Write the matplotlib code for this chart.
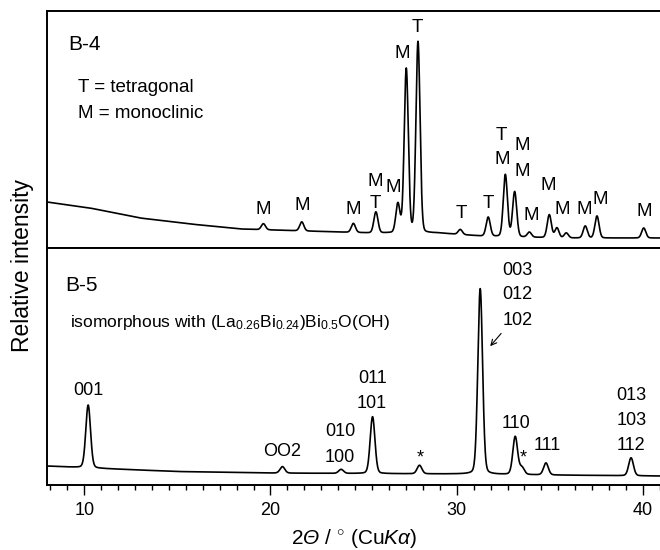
import numpy as np
import matplotlib.pyplot as plt
from matplotlib.ticker import FixedLocator

plt.rcParams['font.family'] = ['Liberation Sans', 'DejaVu Sans']
plt.rcParams['mathtext.fontset'] = 'custom'
plt.rcParams['mathtext.rm'] = 'Liberation Sans'
plt.rcParams['mathtext.it'] = 'Liberation Sans:italic'
plt.rcParams['mathtext.cal'] = 'Liberation Sans:italic'

# B-4 (top): background and reflections
b4_bg_x = [8.0, 10.3, 13.0, 15.7, 18.4, 25.4, 29.0, 31.3, 35.5, 41.0]
b4_bg_y = [46, 40, 30, 24, 19, 15, 15, 12, 10, 10]
b4_pos = [19.62, 21.68, 24.45, 25.66, 26.84, 27.29, 27.92, 30.19, 31.69,
          32.61, 33.11, 33.90, 34.97, 35.38, 35.88, 36.90, 37.53, 40.04]
b4_h = [6, 9, 9, 21, 29, 164, 191, 5, 19, 62, 45, 5, 23, 10, 5, 12, 22, 10]
b4_labels = [('M', 19.62, 39), ('M', 21.70, 42), ('M', 24.44, 39),
             ('M', 25.62, 66), ('T', 25.62, 45), ('M', 26.59, 61),
             ('M', 27.07, 195), ('T', 27.88, 221), ('T', 30.24, 35),
             ('T', 31.69, 45), ('T', 32.42, 113), ('M', 32.42, 88),
             ('M', 33.52, 102), ('M', 33.52, 77), ('M', 34.00, 33),
             ('M', 34.91, 63), ('M', 35.66, 38), ('M', 36.84, 38),
             ('M', 37.70, 48), ('M', 40.07, 37)]

# B-5 (bottom)
b5_bg_x = [8.0, 11.0, 15.0, 20.0, 25.0, 30.0, 35.0, 41.0]
b5_bg_y = [19, 16.5, 13.5, 12, 11.5, 11, 10, 9]
b5_pos = [10.21, 20.64, 23.79, 25.48, 28.00, 31.26, 33.14, 33.50, 34.79, 39.36]
b5_h = [63, 6.5, 4, 57, 8.5, 186, 38, 7, 12, 18]
b5_labels = [('001', 10.20, 95), ('OO2', 20.63, 34), ('010', 23.74, 54),
             ('100', 23.74, 28), ('011', 25.46, 107), ('101', 25.46, 82),
             ('003', 33.25, 215), ('012', 33.25, 191), ('102', 33.25, 165),
             ('110', 33.20, 62), ('111', 34.86, 40), ('013', 39.38, 90),
             ('103', 39.38, 65), ('112', 39.38, 40)]
b5_stars = [(28.04, 27), (33.57, 27)]

x = np.arange(8.0, 41.001, 0.01)


def pattern(bg_x, bg_y, pos, h, w, eta):
    y = np.interp(x, bg_x, bg_y)
    for p, a in zip(pos, h):
        d = (x - p) / w
        y = y + a * ((1 - eta) * np.exp(-4 * np.log(2) * d ** 2) + eta / (1 + 4 * d ** 2))
    return y


y4 = pattern(b4_bg_x, b4_bg_y, b4_pos, b4_h, 0.26, 0.1)
y5 = pattern(b5_bg_x, b5_bg_y, b5_pos, b5_h, 0.30, 0.15)

fig = plt.figure(figsize=(6.6, 5.5), dpi=100)
left = 47 / 660
width = (661.6 - 47) / 660
ax1 = fig.add_axes([left, 1 - 248 / 550, width, 237 / 550])
ax2 = fig.add_axes([left, 1 - 485 / 550, width, 237 / 550])

minor = [10 + k * 10 / 11 for k in range(-2, 35) if k % 11 != 0]
for ax in (ax1, ax2):
    ax.set_xlim(8, 41)
    ax.set_yticks([])
    ax.xaxis.set_major_locator(FixedLocator([10, 20, 30, 40]))
    ax.xaxis.set_minor_locator(FixedLocator(minor))
    ax.tick_params(axis='x', which='major', direction='out', length=7, width=1.0,
                   labelsize=13, pad=5)
    ax.tick_params(axis='x', which='minor', direction='out', length=3.6, width=1.0)
    for s in ax.spines.values():
        s.set_linewidth(1.4)

ax1.tick_params(axis='x', labelbottom=False)
ax1.plot(x, y4, color='black', lw=1.2)
ax1.set_ylim(0, 237)
ax2.plot(x, y5, color='black', lw=1.2)
ax2.set_ylim(0, 237.5)

ax1.text(9.12, 203, 'B-4', fontsize=15, va='center')
ax1.text(9.66, 160, 'T = tetragonal', fontsize=13.5, va='center')
ax1.text(9.66, 135, 'M = monoclinic', fontsize=13.5, va='center')
for t, lx, ly in b4_labels:
    ax1.text(lx, ly, t, fontsize=13.5, ha='center', va='center')

ax2.text(8.96, 200, 'B-5', fontsize=15, va='center')
ax2.text(9.23, 163, r'isomorphous with (La$_{0.26}$Bi$_{0.24}$)Bi$_{0.5}$O(OH)',
         fontsize=12.5, va='center')
for t, lx, ly in b5_labels:
    ax2.text(lx, ly, t, fontsize=13, ha='center', va='center')
for sx, sy in b5_stars:
    ax2.text(sx, sy, '*', fontsize=13, ha='center', va='center')
ax2.annotate('', xy=(31.70, 137), xytext=(32.48, 154),
             arrowprops=dict(arrowstyle='->', color='black', lw=0.8))

ax2.set_xlabel('2$\\mathcal{Θ}$ / $^{\\circ}$ (Cu$\\mathit{K\\alpha}$)', fontsize=15, labelpad=6)
fig.text(23 / 660, 1 - 265 / 550, 'Relative intensity', fontsize=16.5,
         rotation=90, ha='center', va='center')

fig.savefig('out.png', dpi=100)
